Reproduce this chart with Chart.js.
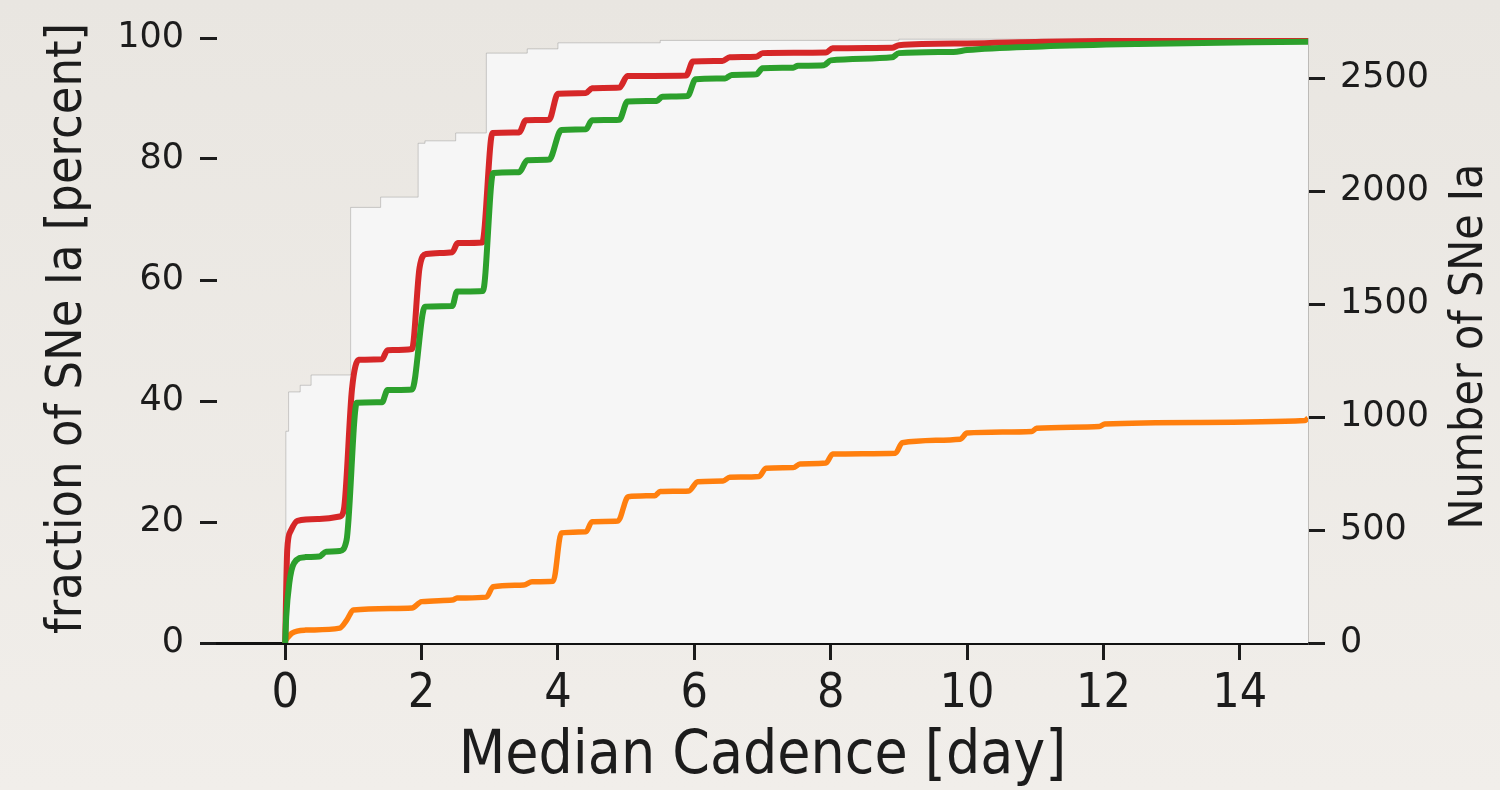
<!DOCTYPE html>
<html>
<head>
<meta charset="utf-8">
<title>Median cadence</title>
<script src="https://cdn.jsdelivr.net/npm/chart.js@4.4.0/dist/chart.umd.min.js"></script>
<style>
    html, body { margin: 0; padding: 0; }
    body {
        width: 1500px;
        height: 790px;
        overflow: hidden;
        background: linear-gradient(#e9e6e1, #f1eeea);
    }
    #chartBox { position: relative; width: 1500px; height: 790px; }
</style>
</head>
<body>
<div id="chartBox"><canvas id="myChart"></canvas></div>
<script>
// values

const xTicks = [0, 2, 4, 6, 8, 10, 12, 14];
const leftTicks = [0, 20, 40, 60, 80, 100];
const rightTicks = [0, 500, 1000, 1500, 2000, 2500];
const totalSNe = 2677; // number of SNe matching 100 percent

const xTitle = 'Median Cadence [day]';
const leftTitle = 'fraction of SNe Ia [percent]';
const rightTitle = 'Number of SNe Ia';

// light grey envelope behind the curves (percent)
const envCadence = [0, 0.01, 0.05, 0.22, 0.38, 0.96, 1.4, 1.95, 2.05, 2.5, 2.95, 3.55, 4.0, 5.5, 9, 15];
const envFrac = [0, 35, 41.5, 42.6, 44.3, 72, 73.7, 82.6, 83, 84.3, 97.5, 98.2, 99.2, 99.6, 99.8, 99.9];

// red curve (percent)
const redCadence = [0, 0.03, 0.08, 0.18, 0.5, 0.8, 0.86, 0.98, 1.08, 1.42, 1.5, 1.86, 1.97, 2.07, 2.45, 2.53,
    2.89, 3.04, 3.43, 3.53, 3.87, 4.0, 4.41, 4.5, 4.9, 5.02, 5.88, 5.98, 6.41, 6.52, 6.91, 7.0, 7.93, 8.03,
    8.9, 9.0, 10, 11.1, 12, 13.3, 15];
const redFrac = [0, 15.4, 18.5, 20.2, 20.5, 20.9, 22, 42, 46.8, 46.9, 48.4, 48.6, 62, 64.3, 64.6, 66.1,
    66.2, 84.3, 84.4, 86.4, 86.5, 90.8, 90.9, 91.7, 91.8, 93.7, 93.8, 96.1, 96.2, 96.8, 96.9, 97.5, 97.6, 98.3,
    98.4, 98.8, 99.1, 99.4, 99.5, 99.7, 99.8];

// green curve (percent)
const greenCadence = [0, 0.015, 0.06, 0.13, 0.3, 0.5, 0.6, 0.8, 0.9, 1.05, 1.42, 1.5, 1.86, 2.05, 2.45, 2.52,
    2.9, 3.05, 3.43, 3.55, 3.87, 4.05, 4.41, 4.5, 4.9, 5.02, 5.45, 5.53, 5.9, 6.02, 6.45, 6.55, 6.91, 7.0,
    7.45, 7.52, 7.9, 8.0, 8.9, 9.0, 9.8, 10, 11.1, 12.5, 15];
const greenFrac = [0, 4.3, 9.9, 13.2, 14.2, 14.3, 15.1, 15.2, 17, 39.7, 39.8, 41.8, 41.9, 55.6, 55.7, 58.1,
    58.2, 77.7, 77.8, 79.8, 79.9, 84.8, 84.9, 86.4, 86.5, 89.5, 89.6, 90.3, 90.4, 93.2, 93.3, 93.9, 94.0, 95.0,
    95.1, 95.4, 95.5, 96.3, 96.8, 97.5, 97.7, 98.0, 98.6, 99.0, 99.4];

// orange curve (number of SNe, right axis)
const orangeCadence = [0, 0.1, 0.3, 0.8, 0.9, 1.0, 1.86, 2.0, 2.45, 2.52, 2.95, 3.05, 3.5, 3.62, 3.93, 4.05,
    4.41, 4.5, 4.88, 5.03, 5.42, 5.5, 5.92, 6.05, 6.42, 6.52, 6.95, 7.05, 7.45, 7.55, 7.93, 8.03, 8.95, 9.05,
    9.9, 10.0, 10.95, 11.02, 11.94, 12.02, 13.4, 14.95, 15];
const orangeCount = [10, 44, 57, 66, 100, 146, 155, 183, 190, 199, 203, 249, 257, 271, 273, 487,
    492, 537, 540, 647, 652, 670, 673, 714, 717, 733, 737, 773, 776, 792, 796, 836, 840, 886,
    902, 929, 936, 950, 958, 969, 976, 984, 995];

function toPoints(xs, ys) {
    return xs.map((x, i) => ({ x: x, y: ys[i] }));
}

const condensed = "'DejaVu Sans Condensed', 'DejaVu Sans', sans-serif";
const regular = "'DejaVu Sans', sans-serif";
const ink = '#1c1c1c';

// both axis titles read bottom to top, so they are drawn here
const sideTitles = {
    id: 'sideTitles',
    afterDraw(chart) {
        const ctx = chart.ctx;
        const area = chart.chartArea;
        const mid = (area.top + area.bottom) / 2;

        function vertical(text, x, y, size) {
            ctx.save();
            ctx.translate(x, y);
            ctx.rotate(-Math.PI / 2);
            ctx.font = size + "px " + condensed;
            ctx.fillStyle = ink;
            ctx.textAlign = 'center';
            ctx.textBaseline = 'middle';
            ctx.fillText(text, 0, 0);
            ctx.restore();
        }

        vertical(leftTitle, chart.scales.y.left + 68, mid - 12, 50);
        vertical(rightTitle, chart.scales.y1.right - 30, mid + 6, 46);
    }
};

const data = {
    datasets: [
        {
            label: 'envelope',
            data: toPoints(envCadence, envFrac),
            yAxisID: 'y',
            stepped: true,
            fill: 'origin',
            backgroundColor: '#f6f6f6',
            borderColor: 'rgba(120,120,120,0.35)',
            borderWidth: 1,
            pointRadius: 0,
            order: 10
        },
        {
            label: 'red',
            data: toPoints(redCadence, redFrac),
            yAxisID: 'y',
            borderColor: '#d62728',
            borderWidth: 6,
            cubicInterpolationMode: 'monotone',
            pointRadius: 0,
            fill: false,
            order: 2
        },
        {
            label: 'green',
            data: toPoints(greenCadence, greenFrac),
            yAxisID: 'y',
            borderColor: '#2ca02c',
            borderWidth: 6,
            cubicInterpolationMode: 'monotone',
            pointRadius: 0,
            fill: false,
            order: 1
        },
        {
            label: 'orange',
            data: toPoints(orangeCadence, orangeCount),
            yAxisID: 'y1',
            borderColor: '#ff7f0e',
            borderWidth: 5.5,
            cubicInterpolationMode: 'monotone',
            pointRadius: 0,
            fill: false,
            order: 3
        }
    ]
};

const options = {
    responsive: true,
    maintainAspectRatio: false,
    animation: false,
    devicePixelRatio: 1,
    layout: { padding: { top: 38, left: 0, right: 0, bottom: 0 } },
    plugins: {
        legend: { display: false },
        tooltip: { enabled: false }
    },
    scales: {
        x: {
            type: 'linear',
            position: 'bottom',
            min: -1,
            max: 15,
            afterBuildTicks: scale => { scale.ticks = xTicks.map(v => ({ value: v })); },
            afterFit: scale => { scale.height = 147; },
            ticks: { color: ink, font: { family: condensed, size: 48 }, padding: 6, callback: v => String(v) },
            grid: { drawOnChartArea: false, drawTicks: true, tickLength: 17, color: ink, lineWidth: 3 },
            border: { display: true, color: '#111', width: 3 },
            title: {
                display: true,
                text: xTitle,
                color: ink,
                font: { family: condensed, size: 60, lineHeight: 1 },
                padding: { top: 0, bottom: 3 }
            }
        },
        y: {
            type: 'linear',
            position: 'left',
            min: 0,
            max: 100,
            afterBuildTicks: scale => { scale.ticks = leftTicks.map(v => ({ value: v })); },
            afterFit: scale => { scale.width = 217; },
            ticks: { color: ink, font: { family: regular, size: 35 }, padding: 16, callback: v => String(v) },
            grid: { drawOnChartArea: false, drawTicks: true, tickLength: 17, color: ink, lineWidth: 3 },
            border: { display: false }
        },
        y1: {
            type: 'linear',
            position: 'right',
            min: 0,
            max: totalSNe,
            afterBuildTicks: scale => { scale.ticks = rightTicks.map(v => ({ value: v })); },
            afterFit: scale => { scale.width = 192; },
            ticks: { color: ink, font: { family: regular, size: 35 }, padding: 15, callback: v => String(v) },
            grid: { drawOnChartArea: false, drawTicks: true, tickLength: 17, color: ink, lineWidth: 3 },
            border: { display: true, color: 'rgba(120,120,120,0.4)', width: 1 }
        }
    }
};

const myChart = new Chart("myChart", {
    type: 'line',
    data: data,
    options: options,
    plugins: [sideTitles]
});
</script>
</body>
</html>
